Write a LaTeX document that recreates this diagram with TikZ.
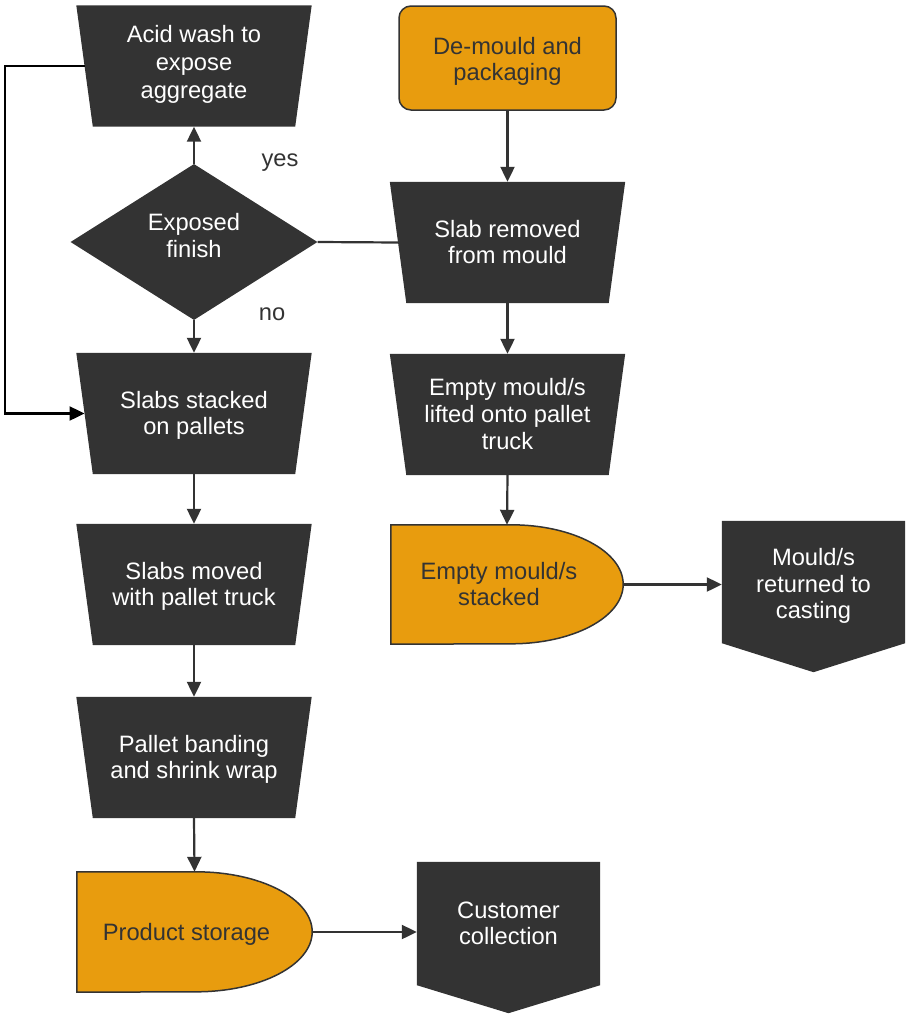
\documentclass[tikz,border=0pt]{standalone}
\usepackage{fontspec}
\setmainfont{Liberation Sans}
\usetikzlibrary{shapes.geometric,arrows.meta,backgrounds,calc}

\definecolor{boxdark}{HTML}{333333}
\definecolor{boxorange}{HTML}{E89C0E}
\definecolor{linedark}{HTML}{333333}

\tikzset{
  every node/.style={font=\fontsize{23.7}{26.7}\selectfont},
  % fixed text box heights so that the lines sit where they should
  lines1/.style={text height=16pt, text depth=0pt},
  lines2/.style={text height=42.7pt, text depth=0pt},
  lines3/.style={text height=69.4pt, text depth=0pt},
  procbox/.style={minimum width=218.5pt, minimum height=121pt, inner sep=0pt,
    align=center, text=white},
  decision/.style={diamond, aspect=1.58, minimum width=247pt, minimum height=156pt,
    inner sep=0pt, fill=boxdark, align=center, text=white,
    text height=30.7pt, text depth=0pt},
  startbox/.style={rectangle, rounded corners=12pt, minimum width=217pt,
    minimum height=104pt, inner sep=0pt, fill=boxorange, draw=linedark,
    line width=1.5pt, align=center, text=boxdark},
  delaybox/.style={minimum width=#1, minimum height=120pt, inner sep=0pt},
  delaytext/.style={align=center, text=boxdark, xshift=-8pt},
  offpage/.style={minimum width=183pt, minimum height=123pt, inner sep=0pt,
    align=center, text=white},
  answer/.style={text=boxdark, lines1},
  flow/.style={draw=linedark, line width=2.2pt, -{Triangle[length=15pt,width=14pt]}},
  plainline/.style={draw=linedark, line width=2.2pt},
}

% trapezoid (wide top, narrow bottom) behind a process node
\newcommand\trapfill[1]{%
  \begin{pgfonlayer}{background}
    \fill[boxdark] ([xshift=-8.25pt]#1.north west) -- ([xshift=8.25pt]#1.north east)
      -- ([xshift=-8.25pt]#1.south east) -- ([xshift=8.25pt]#1.south west) -- cycle;
  \end{pgfonlayer}}

% delay shape: flat left side, half ellipse on the right
\newcommand\delayfill[3]{%
  \begin{pgfonlayer}{background}
    \draw[fill=boxorange, draw=linedark, line width=1.5pt]
      (#1.north west) -- ([xshift=-#2]#1.north east)
      arc[start angle=90, end angle=-90, x radius=#2, y radius=#3]
      -- (#1.south west) -- cycle;
  \end{pgfonlayer}}

% off-page connector outline
\newcommand\offfill[2]{%
  \begin{pgfonlayer}{background}
    \fill[boxdark] (#1.north west) -- (#1.north east) -- (#1.south east)
      -- ([yshift=-#2]#1.south) -- (#1.south west) -- cycle;
  \end{pgfonlayer}}

\begin{document}
\begin{tikzpicture}[x=1pt, y=-1pt]
\useasboundingbox (0,0) rectangle (905,1017);

% left column
\node[procbox, text height=65pt, text depth=0pt,
      font=\fontsize{23.7}{27.8}\selectfont] (acid) at (194,66) {Acid wash to\\expose\\aggregate};
\trapfill{acid}
\node[decision] (dia) at (194,242) {Exposed\\finish};
\node[procbox, lines2] (stacked) at (194,413.5) {Slabs stacked\\on pallets};
\trapfill{stacked}
\node[procbox, lines2] (moved) at (194,584.5) {Slabs moved\\with pallet truck};
\trapfill{moved}
\node[procbox, lines2] (band) at (194,757.5) {Pallet banding\\and shrink wrap};
\trapfill{band}
\node[delaybox=235pt, label={[delaytext, lines1]center:Product storage}] (store) at (194.5,932) {};
\delayfill{store}{116pt}{60pt}
\node[offpage, lines2] (cust) at (508.5,923.5) {Customer\\collection};
\offfill{cust}{28pt}

% right column
\node[startbox, text height=45.5pt, text depth=0pt] (demould) at (507.5,58) {De-mould and\\packaging};
\node[procbox, lines2] (slab) at (507.5,242.5) {Slab removed\\from mould};
\trapfill{slab}
\node[procbox, lines3] (lifted) at (507.5,414.5) {Empty mould/s\\lifted onto pallet\\truck};
\trapfill{lifted}
\node[delaybox=232pt, minimum height=119pt,
      label={[delaytext, lines2]center:{Empty mould/s\\stacked}}] (emstack) at (507,584.5) {};
\delayfill{emstack}{112pt}{59.5pt}
\node[offpage, text height=73.4pt, text depth=0pt, minimum height=122pt] (ret) at (813.5,582) {Mould/s\\returned to\\casting};
\offfill{ret}{29pt}

% decision labels
\node[answer] (yes) at (280,158) {yes};
\node[answer] (no) at (272,312) {no};

% connectors
\coordinate (loopcorner) at (5,413.5);
\draw[flow] (dia.north) -- (acid.south);
\draw[flow] (dia.south) -- (stacked.north);
\draw[flow] (stacked.south) -- (moved.north);
\draw[flow] (moved.south) -- (band.north);
\draw[flow] (band.south) -- (store.north);
\draw[flow] (store.east) -- (store.east -| cust.west);
\draw[flow] (demould.south) -- (slab.north);
\draw[flow] (slab.south) -- (lifted.north);
\draw[flow] (lifted.south) -- (emstack.north);
\draw[flow] (emstack.east) -- (emstack.east -| ret.west);
\draw[plainline] (slab.west) -- (dia.east);
\draw[flow, draw=black] (acid.west) -| (loopcorner) -- (stacked.west);
\end{tikzpicture}
\end{document}
